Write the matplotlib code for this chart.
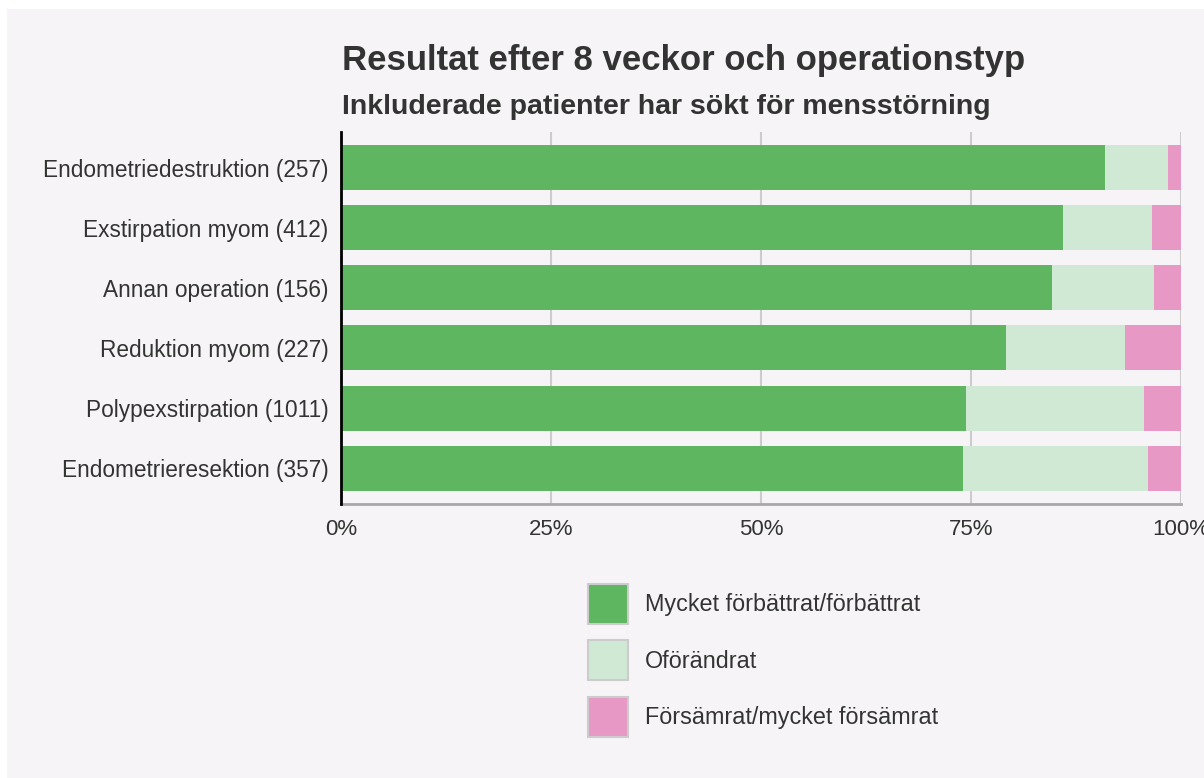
import matplotlib.pyplot as plt
from matplotlib.patches import Patch, Rectangle
from matplotlib.ticker import FuncFormatter

plt.rcParams['font.family'] = ['Liberation Sans', 'DejaVu Sans']

# Data (percent of patients), top row first
categories = [
    "Endometriedestruktion (257)",
    "Exstirpation myom (412)",
    "Annan operation (156)",
    "Reduktion myom (227)",
    "Polypexstirpation (1011)",
    "Endometrieresektion (357)",
]
improved = [91.0, 85.9, 84.6, 79.2, 74.4, 74.1]
unchanged = [7.4, 10.7, 12.15, 14.1, 21.2, 22.0]
worse = [1.6, 3.4, 3.25, 6.7, 4.4, 3.9]
series_names = ["Mycket förbättrat/förbättrat", "Oförändrat", "Försämrat/mycket försämrat"]
xticks = [0, 25, 50, 75, 100]

colors = ["#5eb660", "#d0e9d5", "#e898c4"]
bg = "#f6f4f7"
text_col = "#333333"

W, H = 1204, 778
fig = plt.figure(figsize=(W / 100, H / 100), dpi=100, facecolor="white")
# background panel
fig.add_artist(Rectangle((7 / W, 0), 1 - 7 / W, 1 - 9 / H, transform=fig.transFigure,
                         facecolor=bg, edgecolor="none", zorder=0))

ax = fig.add_axes([341 / W, 1 - 504 / H, 840 / W, 372 / H])
ax.set_facecolor(bg)

y = list(range(len(categories)))
left3 = [a + b for a, b in zip(improved, unchanged)]
ax.barh(y, improved, height=0.75, color=colors[0], zorder=3)
ax.barh(y, unchanged, left=improved, height=0.75, color=colors[1], zorder=3)
ax.barh(y, worse, left=left3, height=0.75, color=colors[2], zorder=3)

ax.set_xlim(0, 100)
ax.set_ylim(5.6, -0.6)
ax.set_xticks(xticks)
ax.xaxis.set_major_formatter(FuncFormatter(lambda v, p: f"{v:.0f}%"))
ax.set_yticks(y)
ax.set_yticklabels(categories)
ax.tick_params(axis="both", length=0, labelsize=16, colors=text_col)
ax.tick_params(axis="y", labelsize=16.3, pad=9)
ax.tick_params(axis="x", pad=11)
ax.grid(axis="x", color="#cccccc", linewidth=1.5, zorder=1)
ax.set_axisbelow(True)

for s in ["top", "right"]:
    ax.spines[s].set_visible(False)
ax.spines["left"].set_color("black")
ax.spines["left"].set_linewidth(2)
ax.spines["left"].set_zorder(5)
ax.spines["bottom"].set_color("#a8a8a8")
ax.spines["bottom"].set_linewidth(2)

fig.text(342 / W, 1 - 70 / H, "Resultat efter 8 veckor och operationstyp",
         fontsize=25, fontweight="bold", color=text_col, va="baseline", ha="left")
fig.text(342 / W, 1 - 114 / H, "Inkluderade patienter har sökt för mensstörning",
         fontsize=20.5, fontweight="bold", color=text_col, va="baseline", ha="left")

handles = [Patch(facecolor=c, edgecolor="#cccccc", linewidth=1.5) for c in colors]
fig.legend(handles, series_names, loc="upper left", bbox_to_anchor=(588 / W, 1 - 584 / H),
           frameon=False, fontsize=16.8, handlelength=1.7, handleheight=2.26,
           labelspacing=0.7, handletextpad=0.73, borderpad=0, borderaxespad=0,
           labelcolor=text_col)

plt.savefig("out.png", dpi=100, facecolor="white")
plt.close()
